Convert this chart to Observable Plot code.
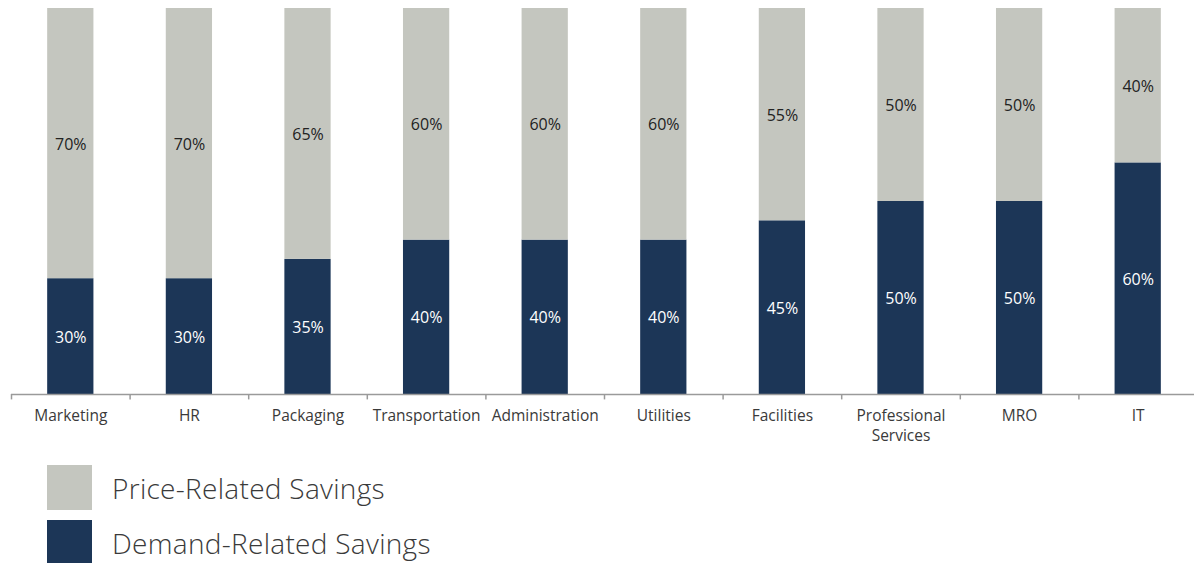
<!DOCTYPE html>
<html>
<head>
<meta charset="utf-8">
<script src="https://cdn.jsdelivr.net/npm/d3@7"></script>
<script src="https://cdn.jsdelivr.net/npm/@observablehq/plot@0.6"></script>
<style>
  body { margin: 0; background: #fff; font-family: "Open Sans", Lato, sans-serif; }
  #legend { margin-top: 10px; }
  .row { display: flex; align-items: center; height: 45px; margin-bottom: 10px; margin-left: 47px; }
  .sw { width: 45px; height: 45px; }
  .lab { margin-left: 20px; font-size: 28px; letter-spacing: 0.3px; color: #3a3a3a; font-weight: 300; }
</style>
</head>
<body>
<div id="chart"></div>
<div id="legend"></div>
<script>
const categories = ["Marketing","HR","Packaging","Transportation","Administration","Utilities","Facilities","Professional\nServices","MRO","IT"];
const demandValues = [30,30,35,40,40,40,45,50,50,60];
const priceValues  = [70,70,65,60,60,60,55,50,50,40];
const seriesNames = ["Demand-Related Savings","Price-Related Savings"];
const colors = ["#1c3657","#c4c6bf"];

const data = [];
categories.forEach((c, i) => {
  data.push({cat: c, series: seriesNames[0], value: demandValues[i]});
  data.push({cat: c, series: seriesNames[1], value: priceValues[i]});
});

const W = 1194, H = 455, mL = 11, mR = -3, mT = 8, mB = 61;
const step = (W - mL - mR) / categories.length;
const FONT = "'Open Sans', Lato, sans-serif";

const chart = Plot.plot({
  width: W, height: H,
  marginLeft: mL, marginRight: mR, marginTop: mT, marginBottom: mB,
  style: {fontFamily: FONT, fontSize: "15px", color: "#333", background: "#fff", overflow: "visible"},
  x: {domain: categories, paddingInner: 0.61, paddingOuter: 0.305, round: false, label: null},
  y: {domain: [0, 100], axis: null},
  color: {domain: seriesNames, range: colors},
  marks: [
    Plot.barY(data, Plot.stackY({x: "cat", y: "value", fill: "series", order: null})),
    Plot.text(data, Plot.stackY({x: "cat", y: "value", z: "series", text: d => d.series === seriesNames[1] ? d.value + "%" : null, fill: "#222", fontSize: 16, dy: 1})),
    Plot.text(data, Plot.stackY({x: "cat", y: "value", z: "series", text: d => d.series === seriesNames[0] ? d.value + "%" : null, fill: "#fff", fontSize: 16, dy: 1})),
    Plot.ruleY([0], {stroke: "#9a9a9a", strokeWidth: 1.5}),
    Plot.ruleX(categories, {x: d => d, dx: -step / 2, y1: 0, y2: -1.4, stroke: "#9a9a9a", strokeWidth: 1.5}),
    Plot.axisX({tickSize: 0, tickPadding: 12, lineHeight: 1.3, fontSize: 15.5, fill: "#3a3a3a"})
  ]
});
document.getElementById("chart").appendChild(chart);

const legend = document.getElementById("legend");
[1, 0].forEach(i => {
  const row = document.createElement("div");
  row.className = "row";
  row.innerHTML = `<div class="sw" style="background:${colors[i]}"></div><div class="lab">${seriesNames[i]}</div>`;
  legend.appendChild(row);
});
</script>
</body>
</html>
